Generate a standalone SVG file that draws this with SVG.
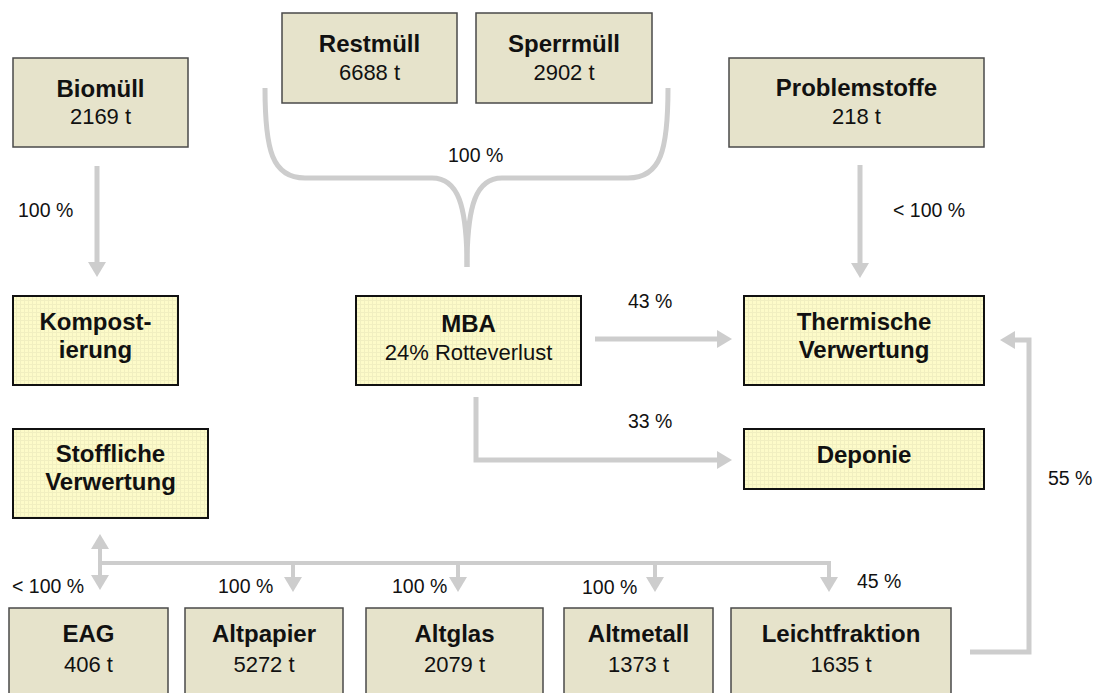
<svg xmlns="http://www.w3.org/2000/svg" width="1099" height="693" viewBox="0 0 1099 693">
<defs>
<style>
.src{fill:#e6e3cb;stroke:#4a4a4a;stroke-width:1.5}
.dst{fill:url(#grid);stroke:#111;stroke-width:2}
.t{font-family:"Liberation Sans",Arial,sans-serif;fill:#111;text-anchor:middle}
.b{font-weight:bold;font-size:24px}
.r{font-size:22px}
.lbl{font-family:"Liberation Sans",Arial,sans-serif;font-size:19.5px;fill:#111}
.c{fill:none;stroke:#cdcdcd;stroke-width:5}
.c4{fill:none;stroke:#cdcdcd;stroke-width:4}
</style>
<pattern id="grid" width="4" height="4" patternUnits="userSpaceOnUse">
<rect width="4" height="4" fill="#fdfbc9"/>
<path d="M0,0.5H4M0.5,0V4" stroke="#f1efc0" stroke-width="1"/>
</pattern>
<marker id="ah" markerUnits="userSpaceOnUse" markerWidth="15" markerHeight="18" refX="0" refY="9" orient="auto">
<path d="M0,0 L15,9 L0,18 z" fill="#cdcdcd"/>
</marker>
</defs>
<rect width="1099" height="693" fill="#fff"/>

<g id="connectors">
<path class="c" d="M265,88 C265,150 272,178 305,178 L432,178 C458,178 467,205 467,267"/>
<path class="c" d="M668,88 C668,150 661,178 628,178 L502,178 C476,178 467,205 467,267"/>
<path class="c" d="M97,166 V262" marker-end="url(#ah)"/>
<path class="c" d="M860,165 V263" marker-end="url(#ah)"/>
<path class="c" d="M595,339 H717" marker-end="url(#ah)"/>
<path class="c" d="M476,397 V460 H717" marker-end="url(#ah)"/>
<path class="c" d="M970,652 H1029 V340 H1015" marker-end="url(#ah)"/>
<path class="c4" d="M100,563 H829 V577" marker-end="url(#ah)"/>
<path class="c4" d="M100,565 V549" marker-end="url(#ah)"/>
<path class="c4" d="M100,561 V575" marker-end="url(#ah)"/>
<path class="c4" d="M293,563 V577" marker-end="url(#ah)"/>
<path class="c4" d="M458,563 V577" marker-end="url(#ah)"/>
<path class="c4" d="M655,563 V577" marker-end="url(#ah)"/>
</g>

<g id="labels">
<text class="lbl" x="18" y="217">100 %</text>
<text class="lbl" x="448" y="162">100 %</text>
<text class="lbl" x="893" y="217">&lt; 100 %</text>
<text class="lbl" x="628" y="308">43 %</text>
<text class="lbl" x="628" y="428">33 %</text>
<text class="lbl" x="1048" y="485">55 %</text>
<text class="lbl" x="12" y="593">&lt; 100 %</text>
<text class="lbl" x="218" y="593">100 %</text>
<text class="lbl" x="392" y="593">100 %</text>
<text class="lbl" x="582" y="594">100 %</text>
<text class="lbl" x="857" y="588">45 %</text>
</g>

<g id="biomuell"><rect class="src" x="13" y="58" width="175" height="89"/><text class="t b" x="100.5" y="97">Biomüll</text><text class="t r" x="100.5" y="124">2169 t</text></g>
<g id="restmuell"><rect class="src" x="282" y="13" width="175" height="90"/><text class="t b" x="369.5" y="52">Restmüll</text><text class="t r" x="369.5" y="80">6688 t</text></g>
<g id="sperrmuell"><rect class="src" x="476" y="13" width="176" height="90"/><text class="t b" x="564" y="52">Sperrmüll</text><text class="t r" x="564" y="80">2902 t</text></g>
<g id="problemstoffe"><rect class="src" x="729" y="58" width="255" height="89"/><text class="t b" x="856.5" y="96">Problemstoffe</text><text class="t r" x="856.5" y="124">218 t</text></g>

<g id="kompostierung"><rect class="dst" x="13" y="296" width="165" height="89"/><text class="t b" x="95.5" y="330">Kompost-</text><text class="t b" x="95.5" y="358">ierung</text></g>
<g id="mba"><rect class="dst" x="356" y="296" width="225" height="89"/><text class="t b" x="468.5" y="332">MBA</text><text class="t r" x="468.5" y="360">24% Rotteverlust</text></g>
<g id="thermische"><rect class="dst" x="744" y="296" width="240" height="89"/><text class="t b" x="864" y="330">Thermische</text><text class="t b" x="864" y="358">Verwertung</text></g>
<g id="stoffliche"><rect class="dst" x="13" y="429" width="195" height="89"/><text class="t b" x="110.5" y="462">Stoffliche</text><text class="t b" x="110.5" y="490">Verwertung</text></g>
<g id="deponie"><rect class="dst" x="744" y="429" width="240" height="60"/><text class="t b" x="864" y="463">Deponie</text></g>

<g id="eag"><rect class="src" x="9" y="608" width="159" height="95"/><text class="t b" x="88.5" y="642">EAG</text><text class="t r" x="88.5" y="672">406 t</text></g>
<g id="altpapier"><rect class="src" x="185" y="608" width="158" height="95"/><text class="t b" x="264" y="642">Altpapier</text><text class="t r" x="264" y="672">5272 t</text></g>
<g id="altglas"><rect class="src" x="366" y="608" width="177" height="95"/><text class="t b" x="454.5" y="642">Altglas</text><text class="t r" x="454.5" y="672">2079 t</text></g>
<g id="altmetall"><rect class="src" x="564" y="608" width="149" height="95"/><text class="t b" x="638.5" y="642">Altmetall</text><text class="t r" x="638.5" y="672">1373 t</text></g>
<g id="leichtfraktion"><rect class="src" x="731" y="608" width="220" height="95"/><text class="t b" x="841" y="642">Leichtfraktion</text><text class="t r" x="841" y="672">1635 t</text></g>
</svg>
